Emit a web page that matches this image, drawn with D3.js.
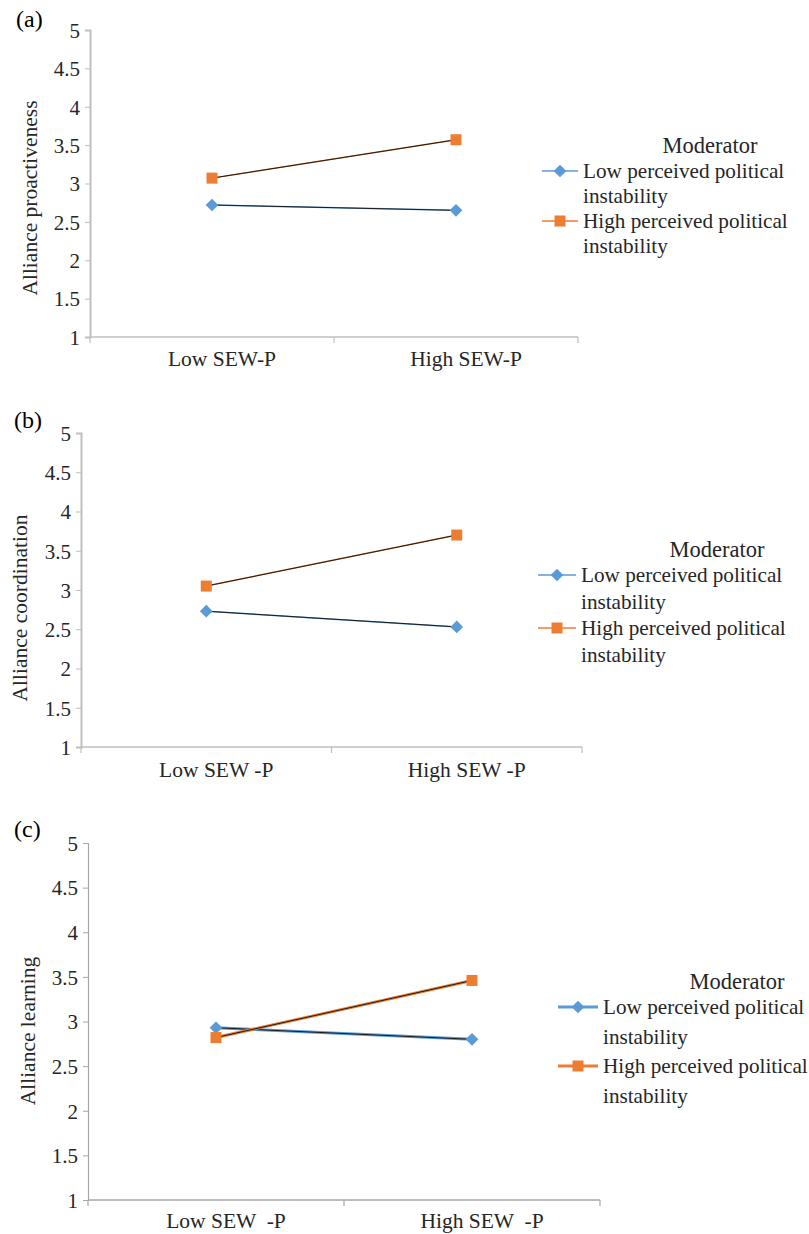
<!DOCTYPE html>
<html>
<head>
<meta charset="utf-8">
<script src="https://cdn.jsdelivr.net/npm/d3@7"></script>
<style>
  body { margin: 0; background: #fff; }
  svg text { font-family: "Liberation Serif", "DejaVu Serif", serif !important; fill: #262626; white-space: pre; }
</style>
</head>
<body>
<script>
const width = 809;
const height = 1234;

// data
const yTicks = [1, 1.5, 2, 2.5, 3, 3.5, 4, 4.5, 5];
const seriesNames = ["Low perceived political", "High perceived political"];
const catsA = ["Low SEW-P", "High SEW-P"];
const catsB = ["Low SEW -P", "High SEW -P"];
const catsC = ["Low SEW  -P", "High SEW  -P"];
const lowA = [2.72, 2.65];
const highA = [3.07, 3.57];
const lowB = [2.73, 2.53];
const highB = [3.05, 3.7];
const lowC = [2.93, 2.8];
const highC = [2.82, 3.46];

const colors = ["#5b9bd5", "#ed7d31"];
const fontFamily = '"Liberation Serif", "DejaVu Serif", serif';

let svg = d3
  .select("body")
  .append("svg")
  .attr("width", width)
  .attr("height", height)
  .attr("font-family", fontFamily);

function diamond(sel, cx, cy) {
  sel.append("rect")
    .attr("x", -4.5).attr("y", -4.5)
    .attr("width", 9).attr("height", 9)
    .attr("fill", colors[0])
    .attr("transform", `translate(${cx},${cy}) rotate(45)`);
}

function square(sel, cx, cy) {
  sel.append("rect")
    .attr("x", cx - 5.5).attr("y", cy - 5.5)
    .attr("width", 11).attr("height", 11)
    .attr("fill", colors[1]);
}

function drawPanel(p) {
  let g = svg.append("g");

  let x = d3.scaleBand().domain(p.cats).range([p.left, p.right]);
  let y = d3.scaleLinear().domain([1, 5]).range([p.bottom, p.top]);

  // y axis
  let yAxis = g
    .append("g")
    .attr("transform", `translate(${p.left},0)`)
    .call(d3.axisLeft(y).tickValues(yTicks).tickFormat(d3.format("~g")).tickSize(5).tickPadding(5));
  yAxis.attr("font-family", fontFamily);
  yAxis.select(".domain").attr("stroke", p.axisColor).attr("stroke-width", p.yw);
  yAxis.selectAll(".tick line").attr("stroke", p.axisColor);
  yAxis.selectAll(".tick text").style("font-size", "21px").attr("dy", "0.35em");

  // x axis
  let xAxis = g
    .append("g")
    .attr("transform", `translate(0,${p.bottom})`)
    .call(d3.axisBottom(x).tickSize(0).tickPadding(p.xPad));
  xAxis.attr("font-family", fontFamily);
  xAxis.select(".domain").remove();
  xAxis.selectAll(".tick text")
    .style("font-size", "21.5px")
    .attr("xml:space", "preserve")
    .attr("dx", 10)
    .attr("dy", "0.71em");
  g.append("line")
    .attr("x1", p.left).attr("x2", p.right)
    .attr("y1", p.bottom).attr("y2", p.bottom)
    .attr("stroke", p.axisColor).attr("stroke-width", 1.5);
  g.selectAll(".xtick")
    .data([p.left, (p.left + p.right) / 2, p.right])
    .join("line")
    .attr("x1", (d) => d).attr("x2", (d) => d)
    .attr("y1", p.bottom).attr("y2", p.bottom + 6)
    .attr("stroke", p.axisColor).attr("stroke-width", 1.2);

  // y label
  g.append("text")
    .text(p.ylabel)
    .style("font-size", "21.5px")
    .attr("text-anchor", "middle")
    .attr("transform", `translate(${p.labelX}, ${p.labelY}) rotate(-90)`);

  // panel letter
  g.append("text")
    .text(p.letter)
    .style("font-size", "24px")
    .attr("x", p.letterX)
    .attr("y", p.letterY)
    .style("fill", "#000");

  let line = d3
    .line()
    .x((d, i) => x(p.cats[i]) + x.bandwidth() / 2)
    .y((d) => y(d));

  [p.low, p.high].forEach((vals, s) => {
    g.append("path")
      .attr("d", line(vals))
      .attr("fill", "none")
      .attr("stroke", colors[s])
      .attr("stroke-width", p.lw);
    g.append("path")
      .attr("d", line(vals))
      .attr("fill", "none")
      .attr("stroke", "#1a1a1a")
      .attr("stroke-width", 1);
  });

  // markers
  p.low.forEach((v, i) => diamond(g, x(p.cats[i]) + x.bandwidth() / 2, y(v)));
  p.high.forEach((v, i) => square(g, x(p.cats[i]) + x.bandwidth() / 2, y(v)));

  // legend
  let lg = g.append("g").attr("transform", `translate(${p.legX},${p.legY})`);
  lg.append("text")
    .text("Moderator")
    .style("font-size", "22.5px")
    .attr("x", p.modX - p.legX)
    .attr("y", -26)
    .attr("text-anchor", "middle")
    .attr("dy", "0.35em");
  seriesNames.forEach((name, s) => {
    let row = lg.append("g").attr("transform", `translate(0,${s * p.legStep})`);
    row.append("line")
      .attr("x1", 0).attr("x2", p.legLen)
      .attr("y1", 0).attr("y2", 0)
      .attr("stroke", colors[s]).attr("stroke-width", p.lw);
    if (s === 0) diamond(row, p.legLen / 2, 0);
    else square(row, p.legLen / 2, 0);
    let t = row.append("text")
      .style("font-size", "21.2px")
      .attr("x", p.legLen + 5)
      .attr("y", 0)
      .attr("dy", "0.35em");
    t.append("tspan").text(name);
    t.append("tspan").attr("x", p.legLen + 5).attr("dy", p.legStep / 2).text("instability");
  });
}

drawPanel({
  letter: "(a)", letterX: 16, letterY: 27,
  cats: catsA, low: lowA, high: highA,
  left: 90, right: 578, top: 30, bottom: 337, xPad: 14,
  ylabel: "Alliance proactiveness", labelX: 37, labelY: 198,
  axisColor: "#bfbfbf", yw: 2, lw: 1.5,
  legX: 542, legY: 171, legLen: 36, legStep: 50, modX: 710
});

drawPanel({
  letter: "(b)", letterX: 14, letterY: 428,
  cats: catsB, low: lowB, high: highB,
  left: 81, right: 582, top: 433, bottom: 747, xPad: 15,
  ylabel: "Alliance coordination", labelX: 27, labelY: 608,
  axisColor: "#bfbfbf", yw: 2, lw: 1.5,
  legX: 538, legY: 575, legLen: 38, legStep: 53, modX: 717
});

drawPanel({
  letter: "(c)", letterX: 14, letterY: 837,
  cats: catsC, low: lowC, high: highC,
  left: 88, right: 600, top: 843, bottom: 1200, xPad: 13,
  ylabel: "Alliance learning", labelX: 35, labelY: 1031,
  axisColor: "#a6a6a6", yw: 1.2, lw: 3,
  legX: 558, legY: 1007, legLen: 40, legStep: 59, modX: 737
});
</script>
</body>
</html>
